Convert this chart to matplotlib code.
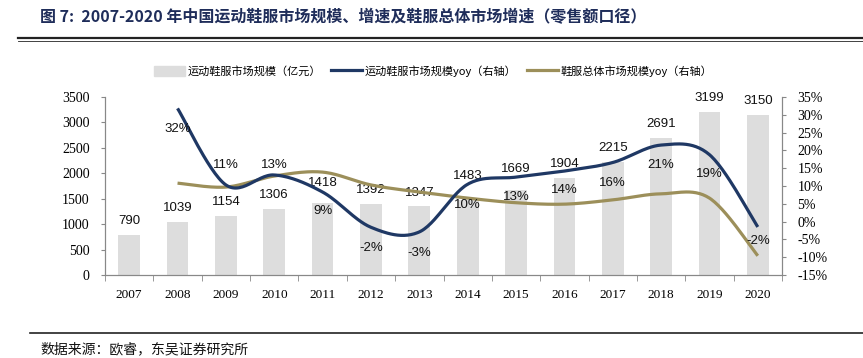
import numpy as np
import matplotlib.pyplot as plt
from matplotlib.lines import Line2D
from matplotlib.patches import Patch

plt.rcParams['font.family'] = ['Liberation Serif', 'Noto Sans CJK SC']

years = ['2007', '2008', '2009', '2010', '2011', '2012', '2013',
         '2014', '2015', '2016', '2017', '2018', '2019', '2020']
market_size = [790, 1039, 1154, 1306, 1418, 1392, 1347, 1483, 1669, 1904, 2215, 2691, 3199, 3150]
# 运动鞋服 yoy（2008 起）
sport_yoy = [31.8, 10.3, 13.1, 8.3, -1.6, -2.9, 10.5, 12.5, 14.2, 16.6, 21.5, 18.8, -1.5]
sport_labels = ['32%', '11%', '13%', '9%', '-2%', '-3%', '10%', '13%', '14%', '16%', '21%', '19%', '-2%']
# 鞋服总体 yoy（2008 起）
total_yoy = [10.8, 9.7, 12.8, 13.9, 10.3, 8.3, 6.6, 5.3, 4.9, 6.1, 7.8, 6.6, -9.6]


def smooth(x, y, n=30):
    # Excel 风格平滑线（三次贝塞尔）
    x = np.asarray(x, float)
    y = np.asarray(y, float)
    px, py = [], []
    for i in range(len(x) - 1):
        x0, y0 = (x[i - 1], y[i - 1]) if i > 0 else (x[i], y[i])
        x3, y3 = (x[i + 2], y[i + 2]) if i + 2 < len(x) else (x[i + 1], y[i + 1])
        c1x = x[i] + (x[i + 1] - x0) / 6
        c1y = y[i] + (y[i + 1] - y0) / 6
        c2x = x[i + 1] - (x3 - x[i]) / 6
        c2y = y[i + 1] - (y3 - y[i]) / 6
        t = np.linspace(0, 1, n)
        bx = (1 - t) ** 3 * x[i] + 3 * (1 - t) ** 2 * t * c1x + 3 * (1 - t) * t ** 2 * c2x + t ** 3 * x[i + 1]
        by = (1 - t) ** 3 * y[i] + 3 * (1 - t) ** 2 * t * c1y + 3 * (1 - t) * t ** 2 * c2y + t ** 3 * y[i + 1]
        px.extend(bx)
        py.extend(by)
    return px, py


bar_c = '#dddddd'
blue_c = '#1f3864'
gold_c = '#9c8f5a'
navy_t = '#1f2d5a'

fig = plt.figure(figsize=(8.63, 3.58), dpi=100)
ax = fig.add_axes([105 / 863, 1 - 275 / 358, 677 / 863, 178 / 358])
ax2 = ax.twinx()

x = np.arange(len(years))
ax.bar(x, market_size, width=0.45, color=bar_c, zorder=1)
# 柱子标签的上移量（points）
bar_offs = [10, 10, 10, 10, 14, 10, 10, 17, 15, 10, 10, 10, 10, 10]
for xi, v, o in zip(x, market_size, bar_offs):
    ax.annotate(str(v), (xi, v), xytext=(0, o), textcoords='offset points',
                ha='center', va='center', fontsize=9.5,
                family='Liberation Sans', color='#111111')

ax.set_xlim(-0.5, len(years) - 0.5)
ax.set_ylim(0, 3500)
ax.set_yticks(range(0, 3501, 500))
ax.set_xticks(x)
ax.set_xticklabels(years)
ax.set_xticks(np.arange(-0.5, len(years), 1), minor=True)
ax.tick_params(axis='x', which='major', length=0, pad=10, labelsize=9.5)
ax.tick_params(axis='x', which='minor', length=4, color='#888888')
ax.tick_params(axis='y', length=3, color='#888888', labelsize=10, pad=8)

ax2.set_ylim(-15, 35)
ax2.set_yticks(range(-15, 36, 5))
ax2.set_yticklabels([f'{v}%' for v in range(-15, 36, 5)])
ax2.tick_params(axis='y', length=3, color='#888888', labelsize=10, pad=8)

for a in (ax, ax2):
    a.spines['top'].set_visible(False)
    for s in ('left', 'right', 'bottom'):
        a.spines[s].set_color('#888888')
        a.spines[s].set_linewidth(0.8)

xs = x[1:]
sx, sy = smooth(xs, sport_yoy)
ax2.plot(sx, sy, color=blue_c, lw=2.3, zorder=3, solid_capstyle='butt')
tx, ty = smooth(xs, total_yoy)
ax2.plot(tx, ty, color=gold_c, lw=2.3, zorder=2, solid_capstyle='butt')

# 百分比标签的纵向位置（右轴单位）
label_y = [26.0, 15.9, 15.9, 3.0, -7.4, -8.8, 4.7, 7.0, 8.9, 10.8, 15.9, 13.4, -5.4]
for xi, lab, ly in zip(xs, sport_labels, label_y):
    ax2.text(xi, ly, lab, ha='center', va='center', fontsize=9.5,
             family='Liberation Sans', color='#111111', zorder=4)

# 图例
handles = [Patch(color=bar_c),
           Line2D([], [], color=blue_c, lw=2.3),
           Line2D([], [], color=gold_c, lw=2.3)]
labels = ['运动鞋服市场规模（亿元）', '运动鞋服市场规模yoy（右轴）', '鞋服总体市场规模yoy（右轴）']
fig.legend(handles, labels, loc='center', bbox_to_anchor=(433 / 863, 1 - 71 / 358),
           ncol=3, frameon=False, handlelength=2.8, handleheight=1.0, columnspacing=0.9,
           handletextpad=0.25, prop={'family': ['Noto Sans CJK SC'], 'size': 8})

# 标题与线
fig.text(40 / 863, 1 - 17 / 358, '图 7:  2007-2020 年中国运动鞋服市场规模、增速及鞋服总体市场增速（零售额口径）',
         fontsize=11.5, fontweight='bold', color=navy_t, va='center',
         family=['Noto Sans CJK SC'])
fig.add_artist(Line2D([18 / 863, 1.0], [1 - 38 / 358] * 2, color='#222222', lw=1.6))
fig.add_artist(Line2D([18 / 863, 1.0], [1 - 41 / 358] * 2, color='#222222', lw=0.6))
fig.add_artist(Line2D([30 / 863, 1.0], [1 - 333 / 358] * 2, color='#222222', lw=1.2))
fig.text(40 / 863, 1 - 349 / 358, '数据来源：欧睿，东吴证券研究所', fontsize=10, va='center',
         family=['Noto Sans CJK SC'], color='#111111')

fig.savefig('out.png', dpi=100)
